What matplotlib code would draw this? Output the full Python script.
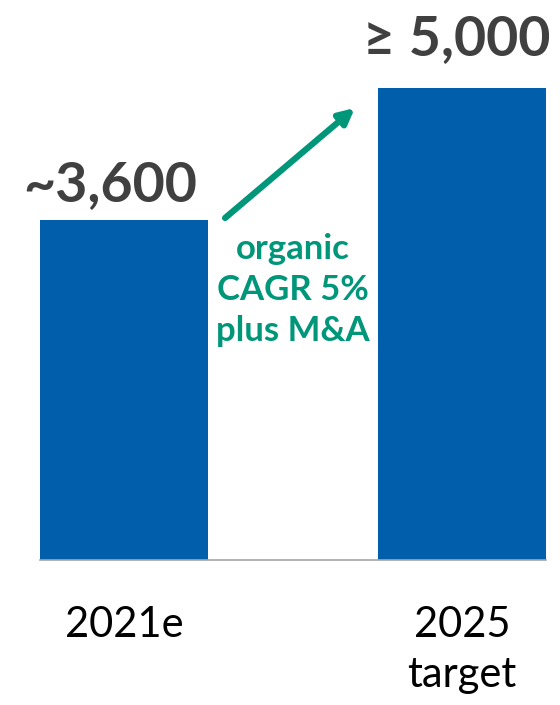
import matplotlib
matplotlib.use('Agg')
import matplotlib.pyplot as plt

categories = ['2021e', '2025\ntarget']
values = [3600, 5000]
value_labels = ['~3,600', '\u2265 5,000']
growth_text = 'organic\nCAGR 5%\nplus M&A'

blue = '#005EAB'
green = '#00967A'
grey = '#404040'

plt.rcParams['font.family'] = ['Lato', 'DejaVu Sans']

fig = plt.figure(figsize=(5.6, 7.05), dpi=100)
ax = fig.add_axes([0, 0, 1, 1])
x = list(range(len(values)))
ax.bar(x, values, width=0.497, color=blue)
ax.plot([-0.2485, 1.2485], [0, 0], color='#a6a6a6', lw=1.2)

ax.set_xlim(-0.367, 1.290)
ax.set_ylim(-1536, 5932)
ax.axis('off')

# value labels above bars
label_dx = [-10, -4]
label_dy = [14, 24]
for i, (v, lab) in enumerate(zip(values, value_labels)):
    ax.annotate(lab, (x[i], v), xytext=(label_dx[i], label_dy[i]),
                textcoords='offset points', ha='center', va='baseline',
                fontsize=40, fontweight='bold', color=grey)

# category labels below baseline
for i, cat in enumerate(categories):
    ax.annotate(cat, (x[i], 0), xytext=(0, -33), textcoords='offset points',
                ha='center', va='top', fontsize=30, color='black',
                linespacing=1.4)

# growth arrow between bars
ax.annotate('', xy=(0.683, values[1] - 212), xytext=(0.299, values[0] + 23),
            arrowprops=dict(arrowstyle='-|>,head_length=0.9,head_width=0.45',
                            color=green, lw=4.5, shrinkA=0, shrinkB=0))
ax.text(0.5, 2860, growth_text, ha='center', va='center', fontsize=25,
        fontweight='bold', color=green, linespacing=1.35)

fig.savefig('out.png', dpi=100)
